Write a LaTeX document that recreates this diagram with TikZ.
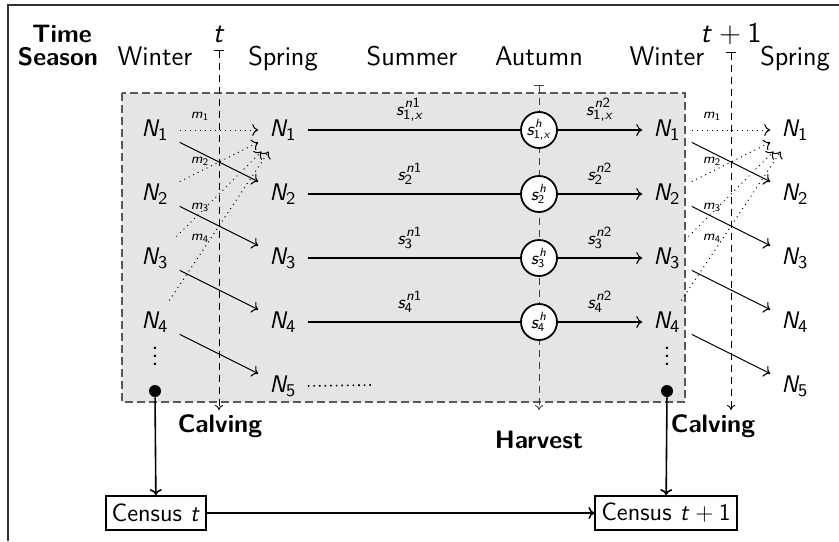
\documentclass[tikz,border=0pt]{standalone}
\usetikzlibrary{arrows.meta}
\DeclareSymbolFont{operators}{OT1}{cmss}{m}{n}
\DeclareSymbolFont{letters}{OT1}{cmss}{m}{sl}
\mathcode`\,="602C
\definecolor{boxgray}{HTML}{E5E5E5}
\begin{document}
\begin{tikzpicture}[x=0.5pt,y=-0.5pt,
  every node/.style={font=\fontsize{13.5}{15}\selectfont\sffamily},
  nn/.style={inner sep=5.5pt,font=\fontsize{13}{15}\selectfont\sffamily},
  hc/.style={circle,draw,fill=white,line width=0.9pt,minimum size=18pt,inner sep=0pt,font=\fontsize{9}{10}\selectfont\sffamily},
  slab/.style={font=\fontsize{9.5}{11}\selectfont\sffamily},
  mlab/.style={font=\fontsize{7.5}{9}\selectfont\sffamily},
  head/.style={font=\fontsize{12.6}{14}\selectfont\sffamily\bfseries},
  vline/.style={dash pattern=on 3.5pt off 2.5pt, line width=0.45pt, {Bar[width=5pt]}-{To[length=2.5pt,width=4pt]}},
  thin arrow/.style={line width=0.55pt,-{To[length=3pt,width=6pt]}},
  dot arrow/.style={line width=0.5pt,dotted,-{To[length=3pt,width=6pt]}},
  ctr/.style={draw,line width=0.9pt,inner xsep=3pt,minimum height=17pt,font=\fontsize{12.5}{14}\selectfont\sffamily},
  big arrow/.style={line width=0.8pt,-{To[length=3pt,width=6pt]}}]
\useasboundingbox (0,0) rectangle (839,541);
% frame
\draw[line width=0.8pt,black!80] (8,541) -- (8,5) -- (839,5);
% shaded box
\draw[dash pattern=on 4pt off 2pt,line width=0.6pt,draw=black!65,fill=boxgray] (122,93) rectangle (685,402);
% headers
\node[head,anchor=base] (time) at (62,42) {Time};
\node[head,anchor=base] (season) at (58,65) {Season};
\node[anchor=base] (w1) at (155,65) {Winter};
\node[anchor=base] (sp1) at (283,65) {Spring};
\node[anchor=base] (su) at (412,65) {Summer};
\node[anchor=base] (au) at (539,65) {Autumn};
\node[anchor=base] (w2) at (667,65) {Winter};
\node[anchor=base] (sp2) at (795,65) {Spring};
\node[anchor=base,font=\fontsize{13.5}{15}\selectfont] (tl) at (219,42) {$t$};
\node[anchor=base,font=\fontsize{13.5}{15}\selectfont] (tl2) at (731,42) {$t+1$};
% vertical dashed lines
\coordinate (v1t) at (219,50); \coordinate (v1b) at (219,410);
\coordinate (v2t) at (539,85); \coordinate (v2b) at (539,410);
\coordinate (v3t) at (731,52); \coordinate (v3b) at (731,410);
\draw[vline] (v1t) -- (v1b);
\draw[vline,draw=black!75] (v2t) -- (v2b);
\draw[vline] (v3t) -- (v3b);
\node[head] (calv1) at (220,426) {Calving};
\node[head] (harv) at (539,440) {Harvest};
\node[head] (calv2) at (713,426) {Calving};
% nodes
\foreach \i/\y/\sb in {1/130/{1,x},2/194/2,3/258/3,4/322/4} {
  \node[nn] (A\i) at (155,\y) {$N_{\i}$};
  \node[nn] (B\i) at (283,\y) {$N_{\i}$};
  \node[hc] (H\i) at (539,\y) {$s^{h}_{\sb}$};
  \node[nn] (C\i) at (667,\y) {$N_{\i}$};
  \node[nn] (D\i) at (795,\y) {$N_{\i}$};
  \node[slab] (sa\i) at (410,\y-20) {$s^{n1}_{\sb}$};
  \node[slab] (sb\i) at (600,\y-20) {$s^{n2}_{\sb}$};
  \draw[line width=0.6pt] (B\i) -- (H\i);
  \draw[thin arrow] (H\i) -- (C\i);
}
\node[nn] (B5) at (283,386) {$N_{5}$};
\node[nn] (D5) at (795,386) {$N_{5}$};
\coordinate (b5e) at (372,385);
\draw[line width=0.8pt,dotted] (B5.east) -- (b5e);
\node (vd1) at (155,350) {$\vdots$};
\node (vd2) at (667,350) {$\vdots$};
% transitions
\foreach \i/\j in {1/2,2/3,3/4,4/5} {
  \draw[thin arrow] (A\i) -- (B\j);
  \draw[thin arrow] (C\i) -- (D\j);
}
\foreach \i in {1,2,3,4} {
  \draw[dot arrow] (A\i) -- (B1);
  \draw[dot arrow] (C\i) -- (D1);
}
\foreach \i/\y in {1/116,2/161,3/207,4/238} {
  \node[mlab] (ml\i) at (200,\y) {$m_{\i}$};
  \node[mlab] (mr\i) at (712,\y) {$m_{\i}$};
}
% census
\node[circle,fill,inner sep=0pt,minimum size=6pt] (P1) at (155,391) {};
\node[circle,fill,inner sep=0pt,minimum size=6pt] (P2) at (667,391) {};
\node[ctr] (K1) at (156,513) {Census $t$};
\node[ctr] (K2) at (666,513) {Census $t+1$};
\draw[big arrow] (P1) -- (K1);
\draw[big arrow] (P2) -- (K2);
\draw[big arrow] (K1) -- (K2);
\end{tikzpicture}
\end{document}
